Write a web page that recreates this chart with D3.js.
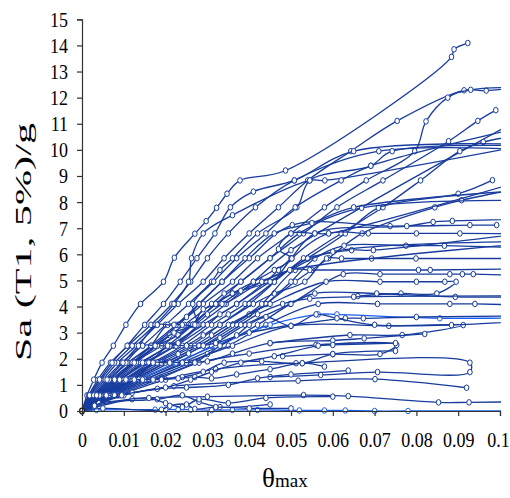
<!DOCTYPE html>
<html><head><meta charset="utf-8">
<script src="https://cdn.jsdelivr.net/npm/d3@7"></script>
<style>body{margin:0;background:#fff}svg{display:block}</style>
</head><body>
<svg id="chart" width="510" height="498"></svg>
<script>
// ---- data: IDA curves, each point is [theta_max, Sa(T1,5%)/g] ----
const xTicks = [0, 0.01, 0.02, 0.03, 0.04, 0.05, 0.06, 0.07, 0.08, 0.09, 0.1];
const xTickLabels = ["0","0.01","0.02","0.03","0.04","0.05","0.06","0.07","0.08","0.09","0.1"];
const yTicks = [0,1,2,3,4,5,6,7,8,9,10,11,12,13,14,15];

const gm01 = [[0,0],[0.0012,0.6],[0.0028,1.2],[0.0048,1.85],[0.0075,2.5],[0.0105,3.3],[0.014,4.1],[0.0195,4.95],[0.0221,5.87],[0.027,6.79],[0.0297,7.27],[0.0322,7.78],[0.0347,8.32],[0.0378,8.83],[0.0487,9.21],[0.0884,13.56],[0.089,13.85],[0.0923,14.09]];
const gm02 = [[0,0],[0.0022,0.6],[0.005,1.2],[0.0085,1.85],[0.013,2.5],[0.018,3.3],[0.023,4.1],[0.029,4.95],[0.034,5.85],[0.04,6.8],[0.047,7.8],[0.054,8.83],[0.0643,9.95],[0.0754,11.11],[0.0914,12.28],[0.0967,12.27],[0.115,12.6]];
const gm03 = [[0,0],[0.003,0.6],[0.0065,1.2],[0.011,1.85],[0.017,2.5],[0.023,3.3],[0.029,4.1],[0.036,4.95],[0.042,5.85],[0.05,6.8],[0.058,7.8],[0.068,8.83],[0.0796,9.95],[0.0823,11.09],[0.0875,12.0],[0.093,12.3],[0.13,12.35]];
const gm04 = [[0,0],[0.0035,0.6],[0.0075,1.2],[0.0125,1.85],[0.019,2.5],[0.026,3.3],[0.032,4.1],[0.038,4.95],[0.045,5.85],[0.053,6.8],[0.061,7.8],[0.072,8.83],[0.0877,10.33],[0.0947,11.11],[0.099,11.52]];
const gm05 = [[0,0],[0.004,0.6],[0.009,1.2],[0.015,1.85],[0.022,2.5],[0.028,3.3],[0.0345,4.1],[0.041,4.95],[0.05,6.16],[0.12,12.5]];
const gm06 = [[0,0],[0.0045,0.6],[0.01,1.2],[0.017,1.85],[0.024,2.5],[0.031,3.3],[0.035,3.7],[0.039,4.1],[0.046,4.95],[0.053,5.85],[0.062,6.8],[0.072,7.8],[0.081,8.83],[0.0904,9.95],[0.096,10.3],[0.12,10.9]];
const gm07 = [[0,0],[0.0038,0.6],[0.0085,1.2],[0.014,1.85],[0.021,2.5],[0.029,3.3],[0.037,4.1],[0.045,4.95],[0.054,5.85],[0.063,6.8],[0.0709,7.78],[0.09,8.32],[0.0982,8.84]];
const gm08 = [[0,0],[0.0055,0.6],[0.012,1.2],[0.02,1.85],[0.028,2.5],[0.036,3.3],[0.04,3.7],[0.044,4.1],[0.051,4.95],[0.055,5.4],[0.059,5.85],[0.067,6.8],[0.0844,7.8],[0.0908,8.07],[0.12,9.0]];
const gm09 = [[0,0],[0.0016,0.6],[0.0038,1.2],[0.0068,1.85],[0.011,2.5],[0.0165,3.3],[0.0215,4.1],[0.026,4.95],[0.03,5.85],[0.035,6.8],[0.0415,7.8],[0.0508,8.83],[0.071,9.95],[0.12,9.9]];
const gm10 = [[0,0],[0.0025,0.6],[0.0055,1.2],[0.0095,1.85],[0.0145,2.5],[0.02,3.3],[0.0255,4.1],[0.031,4.95],[0.033,5.4],[0.036,5.85],[0.042,6.8],[0.0514,7.8],[0.0545,8.83],[0.0691,9.39],[0.0742,9.95],[0.12,10.1]];
const gm11 = [[0,0],[0.003,0.6],[0.0065,1.2],[0.011,1.85],[0.0165,2.5],[0.0225,3.3],[0.028,4.1],[0.0335,4.95],[0.04,5.85],[0.0503,7.12],[0.0737,7.08],[0.0928,7.12],[0.0992,7.12]];
const gm12 = [[0,0],[0.0032,0.6],[0.007,1.2],[0.012,1.85],[0.018,2.5],[0.021,2.9],[0.0245,3.3],[0.031,4.1],[0.034,4.5],[0.038,4.95],[0.045,5.85],[0.052,6.8],[0.0669,7.78],[0.15,7.95]];
const gm13 = [[0,0],[0.0042,0.6],[0.0092,1.2],[0.0155,1.85],[0.0225,2.5],[0.03,3.3],[0.033,3.7],[0.037,4.1],[0.044,4.95],[0.047,5.4],[0.05,5.85],[0.0557,6.8],[0.0777,7.08],[0.084,7.24],[0.0886,7.28],[0.15,7.5]];
const gm14 = [[0,0],[0.005,0.6],[0.011,1.2],[0.018,1.85],[0.026,2.5],[0.033,3.3],[0.04,4.1],[0.046,4.95],[0.0502,5.84],[0.059,6.8],[0.0685,6.8],[0.08,6.8],[0.0904,6.8],[0.15,6.75]];
const gm15 = [[0,0],[0.006,0.6],[0.013,1.2],[0.021,1.85],[0.029,2.5],[0.037,3.3],[0.044,4.1],[0.05,4.95],[0.0557,5.84],[0.0627,6.33],[0.0775,6.33],[0.0867,6.33],[0.15,6.05]];
const gm16 = [[0,0],[0.0048,0.6],[0.0105,1.2],[0.0175,1.85],[0.025,2.5],[0.029,2.9],[0.033,3.3],[0.041,4.1],[0.046,4.5],[0.0533,4.95],[0.0585,5.84],[0.0621,5.84],[0.0693,5.84],[0.0799,5.84],[0.15,5.84]];
const gm17 = [[0,0],[0.0058,0.6],[0.0125,1.2],[0.02,1.85],[0.028,2.5],[0.036,3.3],[0.043,4.1],[0.051,5.4],[0.0545,5.4],[0.0805,5.4],[0.0833,5.4],[0.15,5.55]];
const gm18 = [[0,0],[0.0065,0.6],[0.014,1.2],[0.023,1.85],[0.031,2.5],[0.039,3.3],[0.0498,4.1],[0.0625,5.24],[0.0713,5.24],[0.088,5.24],[0.091,5.24],[0.0936,5.24],[0.14,5.05]];
const gm19 = [[0,0],[0.0052,0.6],[0.0115,1.2],[0.019,1.85],[0.023,2.18],[0.027,2.5],[0.031,2.9],[0.035,3.3],[0.045,4.1],[0.0584,4.95],[0.0713,4.95],[0.08,4.95],[0.0868,4.95],[0.0895,4.95],[0.0849,4.5],[0.0763,4.5],[0.066,4.4]];
const gm20 = [[0,0],[0.0068,0.6],[0.015,1.2],[0.024,1.85],[0.033,2.5],[0.042,3.3],[0.05,4.1],[0.0557,4.5],[0.0705,4.5],[0.0893,4.37],[0.15,4.44]];
const gm21 = [[0,0],[0.0075,0.6],[0.016,1.2],[0.026,1.85],[0.03,2.18],[0.035,2.5],[0.044,3.3],[0.0565,4.1],[0.0707,4.1],[0.088,4.1],[0.094,4.1],[0.15,3.9]];
const gm22 = [[0,0],[0.0062,0.6],[0.0135,1.2],[0.0225,1.85],[0.032,2.5],[0.045,3.3],[0.0565,3.7],[0.061,3.7],[0.0856,3.55],[0.15,3.75]];
const gm23 = [[0,0],[0.007,0.6],[0.015,1.2],[0.025,1.85],[0.036,2.5],[0.05,3.26],[0.0734,3.26],[0.0912,3.29],[0.0766,2.91],[0.0641,2.91],[0.045,2.6]];
const gm24 = [[0,0],[0.0085,0.6],[0.018,1.2],[0.028,1.85],[0.04,2.2],[0.056,2.53],[0.0753,2.53],[0.0713,2.18],[0.06,2.18],[0.048,2.1]];
const gm25 = [[0,0],[0.009,0.6],[0.02,1.2],[0.032,1.6],[0.0512,1.83],[0.0928,1.85],[0.0928,1.49],[0.0707,1.49],[0.0571,1.38],[0.045,1.3]];
const gm26 = [[0,0],[0.01,0.6],[0.022,0.95],[0.0517,1.16],[0.0701,1.22],[0.092,0.89]];
const gm27 = [[0,0],[0.012,0.45],[0.03,0.55],[0.053,0.61],[0.0637,0.57],[0.0853,0.33],[0.0926,0.33],[0.15,0.45]];
const gm28 = [[0,0],[0.0035,0.04],[0.0175,0.05],[0.02,0.05],[0.023,0.05],[0.026,0.05],[0.031,0.03],[0.036,0.04],[0.042,0.04],[0.052,0.02],[0.058,0.02],[0.063,0.02],[0.07,0.0],[0.078,0.0],[0.15,0.0]];
const gm29 = [[0,0],[0.002,0.6],[0.0045,1.2],[0.0078,1.85],[0.012,2.5],[0.0175,3.3],[0.022,4.1],[0.0255,4.95],[0.0262,5.85],[0.029,6.8],[0.036,7.5],[0.0545,8.83],[0.0581,8.83],[0.12,10.6]];
const gm30 = [[0,0],[0.0045,0.6],[0.01,1.2],[0.016,1.85],[0.021,2.5],[0.025,2.5],[0.028,2.5],[0.032,2.6],[0.04,3.0],[0.063,3.55],[0.0673,3.55],[0.08,3.6],[0.15,3.7]];
const gm31 = [[0,0],[0.0055,0.6],[0.012,1.2],[0.018,1.85],[0.024,1.85],[0.03,1.9],[0.036,2.2],[0.045,2.6],[0.06,2.7],[0.0675,2.78],[0.082,2.95]];
const gm32 = [[0,0],[0.0048,0.6],[0.0105,1.2],[0.015,1.2],[0.019,1.25],[0.024,1.3],[0.029,1.5],[0.034,1.85],[0.043,1.9],[0.0527,1.83],[0.06,2.18],[0.075,2.3]];
const gm33 = [[0,0],[0.0035,0.6],[0.0075,1.2],[0.012,1.85],[0.0165,2.5],[0.0205,3.3],[0.024,3.3],[0.0265,3.3],[0.029,3.9],[0.034,4.1],[0.043,4.95],[0.05,5.4],[0.12,6.6]];
const gm34 = [[0,0],[0.003,0.6],[0.0065,1.2],[0.0105,1.85],[0.0145,2.5],[0.018,2.5],[0.021,2.5],[0.023,2.6],[0.0275,3.3],[0.0265,4.1],[0.0315,4.95],[0.037,5.85],[0.044,6.8],[0.051,7.8],[0.062,8.83],[0.0691,9.39],[0.12,11.4]];
const gm35 = [[0,0],[0.0038,0.6],[0.0082,1.2],[0.013,1.85],[0.018,2.5],[0.023,2.9],[0.0265,3.3],[0.032,4.1],[0.036,4.5],[0.045,4.95],[0.054,5.84],[0.0645,6.16],[0.0697,6.16],[0.15,7.7]];
const gm36 = [[0,0],[0.0065,0.6],[0.0145,1.2],[0.019,1.2],[0.023,1.25],[0.027,1.3],[0.031,1.25],[0.037,1.4],[0.045,1.6],[0.0527,1.83],[0.058,1.7]];
const gm37 = [[0,0],[0.0045,0.6],[0.0075,0.6],[0.012,0.7],[0.018,0.85],[0.025,0.9],[0.035,1.0],[0.042,1.25],[0.05,1.4],[0.0637,1.55]];
const gm38 = [[0,0],[0.0018,0.6],[0.0042,1.2],[0.0072,1.85],[0.0108,2.5],[0.015,3.3],[0.0195,4.1],[0.0235,4.95],[0.0275,5.85],[0.0318,6.8],[0.0355,7.8],[0.041,8.4],[0.0508,8.83],[0.065,9.95],[0.11,10.2]];
const gm39 = [[0,0],[0.0042,0.6],[0.009,1.2],[0.0145,1.85],[0.0205,2.5],[0.0265,3.3],[0.032,4.1],[0.036,4.5],[0.041,4.95],[0.046,5.4],[0.0502,5.84],[0.047,6.2],[0.05,6.8],[0.0557,6.8],[0.059,6.8],[0.12,9.5]];
const gm40 = [[0,0],[0.0078,0.6],[0.017,1.2],[0.027,1.85],[0.033,2.5],[0.037,2.9],[0.04,3.3],[0.044,3.6],[0.05,3.26],[0.056,3.7],[0.061,3.55],[0.07,3.3],[0.0884,3.29],[0.12,3.6]];
const gm41 = [[0,0],[0.004,0.3],[0.018,0.45],[0.024,0.6],[0.028,0.35],[0.033,0.15],[0.045,0.25]];
const gm42 = [[0,0],[0.0028,0.6],[0.006,1.2],[0.0098,1.85],[0.0135,2.5],[0.018,3.3],[0.022,3.3],[0.025,3.6],[0.028,4.1],[0.0335,4.95],[0.039,5.85],[0.046,6.8],[0.055,7.2],[0.065,7.8],[0.12,8.6]];
const gm43 = [[0,0],[0.0058,0.6],[0.0125,1.2],[0.017,1.85],[0.021,1.85],[0.0255,2.2],[0.029,2.5],[0.033,2.8],[0.038,3.3],[0.042,3.7],[0.048,4.1],[0.0545,4.3],[0.065,4.37],[0.15,4.4]];
const gm44 = [[0,0],[0.0095,0.6],[0.02,0.9],[0.026,1.2],[0.031,1.5],[0.038,1.85],[0.046,2.1],[0.0565,2.5],[0.06,2.53],[0.075,2.6]];
const gm45 = [[0,0],[0.0035,0.6],[0.0078,1.2],[0.0125,1.85],[0.0175,2.5],[0.022,3.0],[0.027,3.3],[0.03,3.7],[0.0335,4.1],[0.038,4.6],[0.043,4.95],[0.0497,5.4],[0.06,6.1],[0.15,6.5]];
const gm46 = [[0,0],[0.003,0.2],[0.016,0.5],[0.02,0.3],[0.024,0.15],[0.028,0.45],[0.035,0.3],[0.044,0.5],[0.06,0.55]];
const gm47 = [[0,0],[0.005,0.1],[0.019,0.05],[0.021,0.2],[0.025,0.25],[0.027,0.08],[0.032,0.15],[0.04,0.1],[0.05,0.1]];

const records = [gm01,gm02,gm03,gm04,gm05,gm06,gm07,gm08,gm09,gm10,gm11,gm12,gm13,gm14,gm15,gm16,gm17,gm18,gm19,gm20,
                 gm21,gm22,gm23,gm24,gm25,gm26,gm27,gm28,gm29,gm30,gm31,gm32,gm33,gm34,gm35,gm36,gm37,gm38,gm39,gm40,
                 gm41,gm42,gm43,gm44,gm45,gm46,gm47];
const brightRecords = [gm22, gm28];

// ---- drawing ----
const svg = d3.select("#chart");
const x = d3.scaleLinear().domain([0, 0.1]).range([82, 500]);
const y = d3.scaleLinear().domain([0, 15]).range([411, 19.3]);

svg.append("defs").append("clipPath").attr("id", "plotClip")
  .append("rect").attr("x", 78).attr("y", 14).attr("width", 423).attr("height", 401);

const plot = svg.append("g").attr("clip-path", "url(#plotClip)");
const line = d3.line().x(d => x(d[0])).y(d => y(d[1])).curve(d3.curveCatmullRom.alpha(0.5));

records.forEach(rec => {
  const col = brightRecords.includes(rec) ? "#1a5ff0" : "#183c9e";
  plot.append("path").datum(rec).attr("d", line)
    .attr("fill", "none").attr("stroke", col).attr("stroke-width", 1.3);
  plot.selectAll(null).data(rec.slice(1)).enter().append("ellipse")
    .attr("cx", d => x(d[0])).attr("cy", d => y(d[1])).attr("rx", 2.3).attr("ry", 2.8)
    .attr("fill", "#fff").attr("stroke", col).attr("stroke-width", 1);
});
// origin marker
plot.append("ellipse").attr("cx", x(0)).attr("cy", y(0)).attr("rx", 2.4).attr("ry", 2.8)
  .attr("fill", "#fff").attr("stroke", "#111").attr("stroke-width", 1.2);

// axes
const fontFam = "'Liberation Serif','Times New Roman',serif";
const yAxis = svg.append("g").attr("transform", `translate(${x(0)},0)`)
  .call(d3.axisLeft(y).tickValues(yTicks).tickSize(5).tickPadding(9).tickFormat(d3.format("d")));
const xAxis = svg.append("g").attr("transform", `translate(0,${y(0)})`)
  .call(d3.axisBottom(x).tickValues(xTicks).tickSize(5).tickFormat((d, i) => xTickLabels[i]));

[yAxis, xAxis].forEach(g => {
  g.select(".domain").attr("stroke", "#333").attr("stroke-width", 1.2);
  g.selectAll(".tick line").attr("stroke", "#333").attr("stroke-width", 1.2);
  g.selectAll("text").attr("font-family", fontFam).attr("font-size", 18).attr("fill", "#000");
});
yAxis.selectAll(".tick text").attr("transform", "scale(1,1.2)");
xAxis.selectAll(".tick text").attr("y", 29.5).attr("dy", 0).attr("transform", "scale(1,1.22)")
  .attr("x", (d, i) => i === xTicks.length - 1 ? -2 : 0);

// axis titles
svg.append("text")
  .attr("transform", "translate(31,242) rotate(-90)")
  .attr("text-anchor", "middle")
  .attr("font-family", fontFam).attr("font-size", 24)
  .attr("textLength", 238).attr("lengthAdjust", "spacingAndGlyphs")
  .text("Sa (T1, 5%)/g");

const xt = svg.append("text").attr("x", 262).attr("y", 487).attr("font-family", fontFam);
xt.append("tspan").attr("font-size", 27).text("θ");
xt.append("tspan").attr("font-size", 19).text("max");
</script>
</body></html>
